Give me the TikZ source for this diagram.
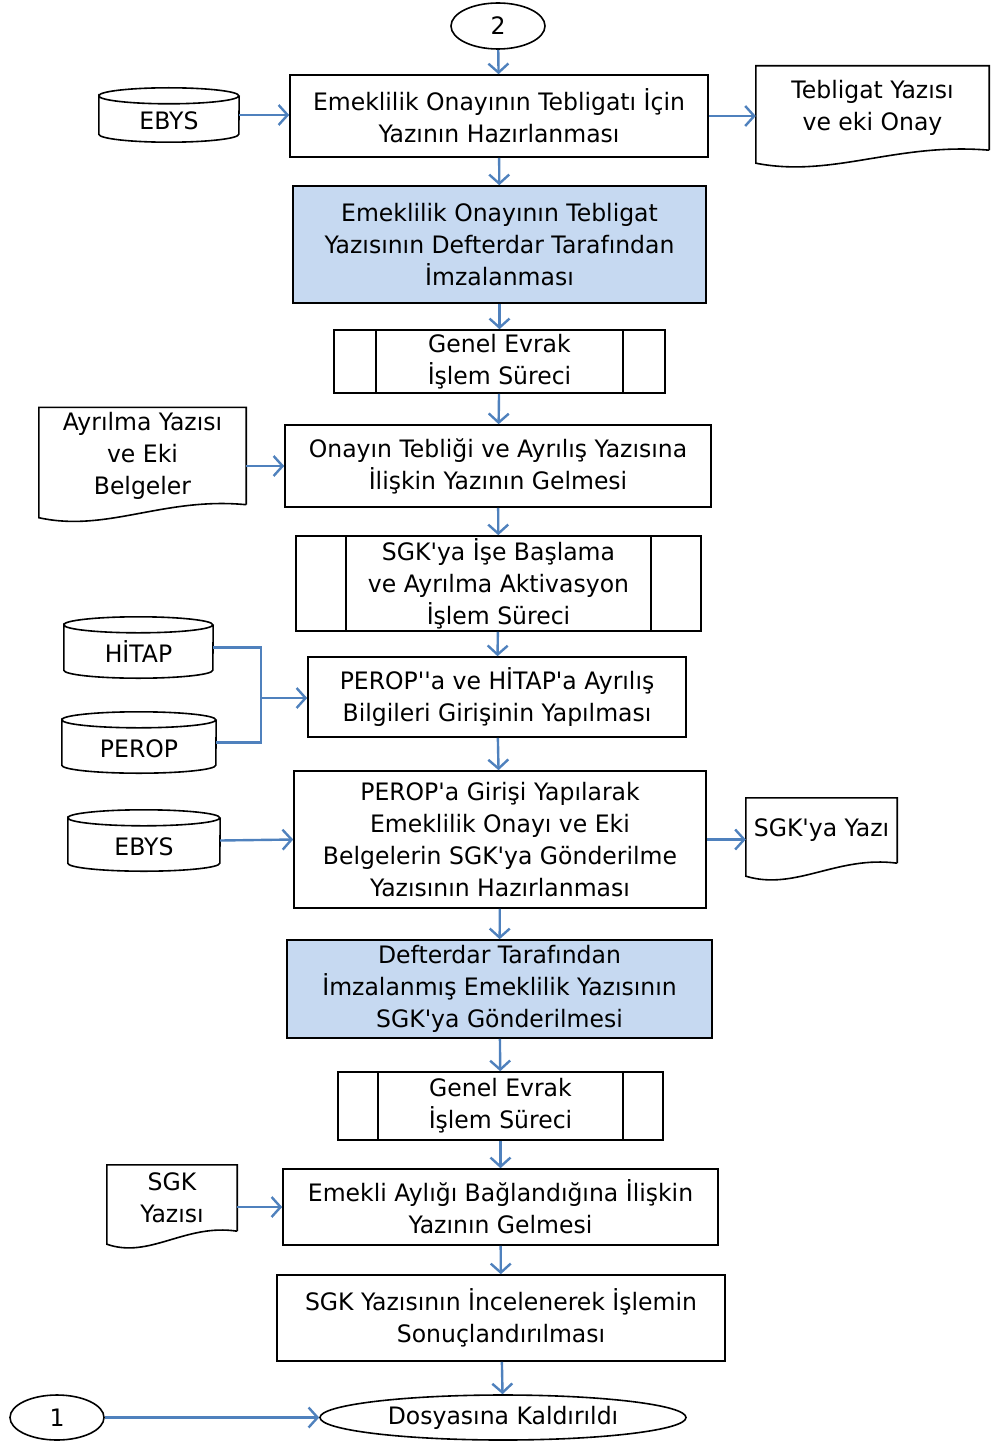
\documentclass[tikz,border=0pt]{standalone}
\usepackage{fontspec}
\setmainfont[FakeStretch=0.98,Ligatures=TeXOff]{DejaVu Sans}
\usetikzlibrary{shapes.geometric}
\usetikzlibrary{positioning}
\usetikzlibrary{arrows.meta}

\definecolor{flowblue}{HTML}{4F81BD}
\definecolor{boxblue}{HTML}{C6D9F1}

% database outline round a node: name, half width, half height of the lid
\newcommand{\dbcyl}[3]{%
  \draw[shapeline] ([yshift=-#3]#1.north west) arc[start angle=180,end angle=-180,x radius=#2,y radius=#3]
    -- ([yshift=#3]#1.south west) arc[start angle=180,end angle=360,x radius=#2,y radius=#3]
    -- ([yshift=-#3]#1.north east);}
% document outline round a node: name, width
\newcommand{\docpage}[2]{%
  \draw[shapeline] (#1.south east) -- (#1.north east) -- (#1.north west)
    -- ([yshift=-13pt]#1.south west)
    .. controls +(0.33*#2pt,-15pt) and +(-0.4*#2pt,8pt) .. (#1.south east);}

\tikzset{
  shapeline/.style={line width=1.6pt, black},
  txt/.style={inner sep=0pt, align=center, font=\fontsize{24}{32}\selectfont},
  box/.style={txt, shapeline, draw, rectangle},
  hlbox/.style={box, fill=boxblue},
  subproc/.style={box, path picture={
      \draw[shapeline] ([xshift=#1]path picture bounding box.north west) -- ([xshift=#1]path picture bounding box.south west)
        ([xshift=-#1]path picture bounding box.north east) -- ([xshift=-#1]path picture bounding box.south east);}},
  term/.style={txt, shapeline, draw, ellipse},
  dbtxt/.style={txt, text height=29pt, text depth=0pt},
  flow/.style={line width=2.4pt, flowblue, -{Straight Barb[length=9pt,width=20pt]}},
  link/.style={line width=2.4pt, flowblue}
}

\begin{document}
\begin{tikzpicture}[x=1pt,y=-1pt]
\useasboundingbox (0,0) rectangle (995,1442);

% main column
\node[term, minimum width=94pt, minimum height=46pt] (two) at (498,26) {2};
\node[box, minimum width=418pt, minimum height=82pt] (hazir) at (499,116) {Emeklilik Onayının Tebligatı İçin\\Yazının Hazırlanması};
\node[hlbox, minimum width=413pt, minimum height=117pt] (imza) at (499.5,244.5) {Emeklilik Onayının Tebligat\\Yazısının Defterdar Tarafından\\İmzalanması};
\node[subproc=42pt, minimum width=331pt, minimum height=63pt] (evrak) at (499.5,361.5) {Genel Evrak\\İşlem Süreci};
\node[box, minimum width=426pt, minimum height=82pt] (geliş) at (498,466) {Onayın Tebliği ve Ayrılış Yazısına\\İlişkin Yazının Gelmesi};
\node[subproc=50pt, minimum width=405pt, minimum height=95pt] (aktiv) at (498.5,583.5) {SGK'ya İşe Başlama\\ve Ayrılma Aktivasyon\\İşlem Süreci};
\node[box, minimum width=378pt, minimum height=80pt] (giris) at (497,697) {PEROP''a ve HİTAP'a Ayrılış\\Bilgileri Girişinin Yapılması};
\node[box, minimum width=412pt, minimum height=137pt] (gonder) at (500,839.5) {PEROP'a Girişi Yapılarak\\Emeklilik Onayı ve Eki\\Belgelerin SGK'ya Gönderilme\\Yazısının Hazırlanması};
\node[hlbox, minimum width=425pt, minimum height=98pt] (imzasgk) at (499.5,989) {Defterdar Tarafından\\İmzalanmış Emeklilik Yazısının\\SGK'ya Gönderilmesi};
\node[subproc=40pt, minimum width=325pt, minimum height=68pt] (evrakiki) at (500.5,1106) {Genel Evrak\\İşlem Süreci};
\node[box, minimum width=435pt, minimum height=76pt] (aylik) at (500.5,1207) {Emekli Aylığı Bağlandığına İlişkin\\Yazının Gelmesi};
\node[box, minimum width=448pt, minimum height=86pt] (sonuc) at (501,1318) {SGK Yazısının İncelenerek İşlemin\\Sonuçlandırılması};
\node[term, minimum width=366pt, minimum height=45pt] (dosya) at (503,1417.5) {Dosyasına Kaldırıldı};
\node[term, minimum width=94pt, minimum height=45pt] (one) at (57,1417.5) {1};

% side inputs and outputs
\node[dbtxt, minimum width=140pt, minimum height=54pt] (ebys) at (169,115) {EBYS};
\dbcyl{ebys}{70pt}{8pt}
\node[txt, minimum width=233pt, minimum height=84pt] (tebyazi) at (872.5,108) {Tebligat Yazısı\\ve eki Onay};
\docpage{tebyazi}{233}
\node[txt, minimum width=207pt, minimum height=97pt] (ayrilma) at (142.5,456) {Ayrılma Yazısı\\ve Eki\\Belgeler};
\docpage{ayrilma}{207}
\node[dbtxt, minimum width=149pt, minimum height=61pt] (hitap) at (138.5,647.5) {HİTAP};
\dbcyl{hitap}{74.5pt}{8pt}
\node[dbtxt, minimum width=154pt, minimum height=61pt] (perop) at (139,742.5) {PEROP};
\dbcyl{perop}{77pt}{8pt}
\node[dbtxt, minimum width=152pt, minimum height=61pt] (ebysiki) at (144,840.5) {EBYS};
\dbcyl{ebysiki}{76pt}{8pt}
\node[txt, minimum width=151pt, minimum height=65pt] (sgkya) at (821.5,830.5) {SGK'ya Yazı};
\docpage{sgkya}{151}
\node[txt, minimum width=130pt, minimum height=66pt] (sgkyazi) at (172,1198) {SGK\\Yazısı};
\docpage{sgkyazi}{130}

% flow
\draw[flow] (two) -- (hazir);
\draw[flow] (hazir) -- (imza);
\draw[flow] (imza) -- (evrak);
\draw[flow] (evrak) -- (geliş);
\draw[flow] (geliş) -- (aktiv);
\draw[flow] (aktiv) -- (giris);
\draw[flow] (giris) -- (gonder);
\draw[flow] (gonder) -- (imzasgk);
\draw[flow] (imzasgk) -- (evrakiki);
\draw[flow] (evrakiki) -- (aylik);
\draw[flow] (aylik) -- (sonuc);
\draw[flow] (sonuc) -- (dosya);
\draw[flow] (one) -- (dosya);

\draw[flow] (ebys.east) -- (ebys.east -| hazir.west);
\draw[flow] (hazir.east) -- (hazir.east -| tebyazi.west);
\draw[flow] ([yshift=-10pt]ayrilma.east) -- (geliş.west);
\coordinate (birles) at (261,698);
\draw[link] (hitap.east) -| (birles);
\draw[link] (perop.east) -| (birles);
\draw[flow] (birles) -- (birles -| giris.west);
\draw[flow] (ebysiki.east) -- (gonder.west);
\draw[flow] (gonder.east) -- (gonder.east -| sgkya.west);
\draw[flow] (aylik.west -| sgkyazi.east) -- (aylik.west);
\end{tikzpicture}
\end{document}
